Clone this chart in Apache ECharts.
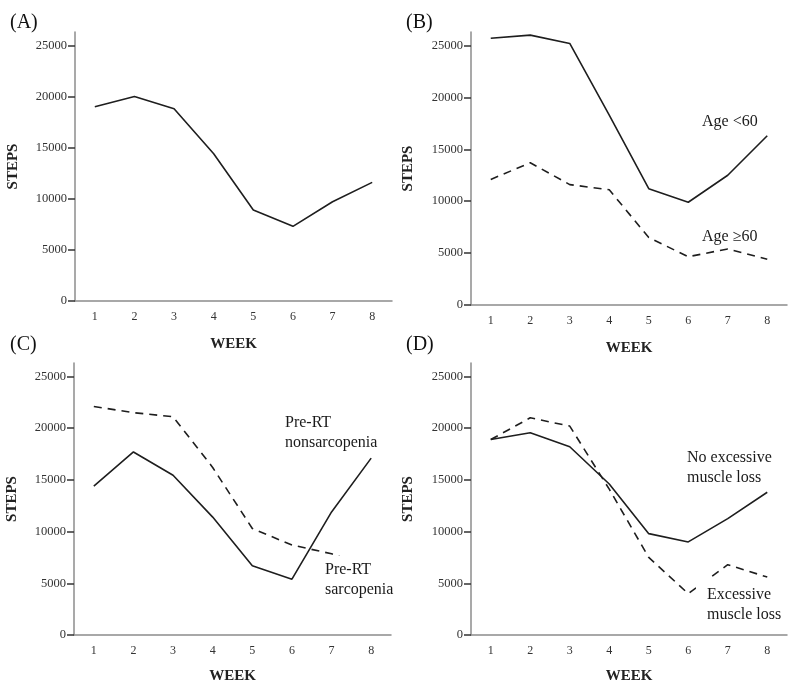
<!DOCTYPE html>
<html>
<head>
<meta charset="utf-8">
<script src="https://cdn.jsdelivr.net/npm/echarts@6/dist/echarts.min.js"></script>
<style>
html,body{margin:0;padding:0;background:#fff;}
#chart{width:800px;height:692px;}
</style>
</head>
<body>
<div id="chart"></div>
<script>
const weeks = ['1','2','3','4','5','6','7','8'];
const yTickValues = [0, 5000, 10000, 15000, 20000, 25000];
const yMax = 26300;

const aSteps = [19000, 20000, 18800, 14400, 8900, 7300, 9700, 11600];
const bAgeUnder60 = [25700, 26000, 25200, 18300, 11200, 9900, 12500, 16300];
const bAge60Plus = [12100, 13700, 11600, 11100, 6500, 4650, 5400, 4400];
const cNonSarcopenia = [14400, 17700, 15450, 11400, 6700, 5400, 11900, 17100];
const cSarcopenia = [22100, 21500, 21100, 16200, 10300, 8700, 7850, 6500];
const dNoExcessLoss = [18900, 19550, 18200, 14600, 9800, 9000, 11250, 13800];
const dExcessLoss = [18900, 21000, 20200, 14100, 7500, 4000, 6800, 5600];

const panelLabels = ['(A)', '(B)', '(C)', '(D)'];
const xName = 'WEEK';
const yName = 'STEPS';

const SERIF = '"Liberation Serif", "Times New Roman", serif';

const grids = [
  {left: 75, top: 32, width: 317, height: 269},
  {left: 471, top: 32, width: 316, height: 273},
  {left: 74, top: 363, width: 317, height: 272},
  {left: 471, top: 363, width: 316, height: 272}
];

function xAxis(i, gap) {
  return {
    type: 'category', gridIndex: i, data: weeks, boundaryGap: true,
    name: xName, nameLocation: 'middle', nameGap: gap,
    nameTextStyle: {fontFamily: SERIF, fontWeight: 'bold', fontSize: 15, color: '#222'},
    axisLine: {lineStyle: {color: '#8c8c8c', width: 1.5}},
    axisTick: {alignWithLabel: true, length: 7, lineStyle: {color: '#333', width: 1.5}},
    axisLabel: {fontFamily: SERIF, fontSize: 12, color: '#333', margin: 10},
    splitLine: {show: false}
  };
}
function yAxis(i, gap) {
  return {
    type: 'value', gridIndex: i, min: 0, max: yMax, interval: 5000,
    name: yName, nameLocation: 'middle', nameGap: gap, nameRotate: 90,
    nameTextStyle: {fontFamily: SERIF, fontWeight: 'bold', fontSize: 15, color: '#222'},
    axisLine: {show: true, lineStyle: {color: '#8c8c8c', width: 1.5}},
    axisTick: {show: true, length: 7, customValues: yTickValues, lineStyle: {color: '#333', width: 1.5}},
    axisLabel: {
      fontFamily: SERIF, fontSize: 12.5, color: '#333', margin: 8,
      customValues: yTickValues,
      formatter: function (v) { return String(v); }
    },
    splitLine: {show: false}
  };
}
function line(i, data, dashed, name) {
  return {
    type: 'line', name: name, xAxisIndex: i, yAxisIndex: i, data: data,
    symbol: 'none', smooth: false, z: 2,
    lineStyle: {color: '#1e1e1e', width: 1.6, type: dashed ? [8, 6] : 'solid'}
  };
}
function label(text, x, y, pad) {
  return {
    type: 'text', x: x, y: y, z: 100,
    style: {
      text: text, fontFamily: SERIF, fontSize: 16, fill: '#1a1a1a', lineHeight: 20,
      backgroundColor: '#fff', padding: pad,
      verticalAlign: 'top', align: 'left'
    }
  };
}
function panel(text, x, y) {
  return {type: 'text', x: x, y: y, style: {text: text, fontFamily: SERIF, fontSize: 20, fill: '#111', verticalAlign: 'middle'}};
}

const chart = echarts.init(document.getElementById('chart'), null, {renderer: 'canvas'});
chart.setOption({
  backgroundColor: '#fff',
  animation: false,
  grid: grids,
  xAxis: [xAxis(0, 36), xAxis(1, 36), xAxis(2, 34), xAxis(3, 34)],
  yAxis: [yAxis(0, 54), yAxis(1, 55), yAxis(2, 54), yAxis(3, 55)],
  series: [
    line(0, aSteps, false, 'Steps'),
    line(1, bAgeUnder60, false, 'Age <60'),
    line(1, bAge60Plus, true, 'Age ≥60'),
    line(2, cNonSarcopenia, false, 'Pre-RT nonsarcopenia'),
    line(2, cSarcopenia, true, 'Pre-RT sarcopenia'),
    line(3, dNoExcessLoss, false, 'No excessive muscle loss'),
    line(3, dExcessLoss, true, 'Excessive muscle loss')
  ],
  graphic: [
    panel(panelLabels[0], 10, 23),
    panel(panelLabels[1], 406, 23),
    panel(panelLabels[2], 10, 345),
    panel(panelLabels[3], 406, 345),
    label('Age <60', 700, 111, [1, 2]),
    label('Age \u226560', 700, 226, [1, 2]),
    label('Pre-RT\nnonsarcopenia', 283, 412, [1, 2]),
    label('Pre-RT\nsarcopenia', 319, 556, [4, 6]),
    label('No excessive\nmuscle loss', 685, 447, [1, 2]),
    label('Excessive\nmuscle loss', 696, 578, [7, 10, 4, 11])
  ]
});
</script>
</body>
</html>
